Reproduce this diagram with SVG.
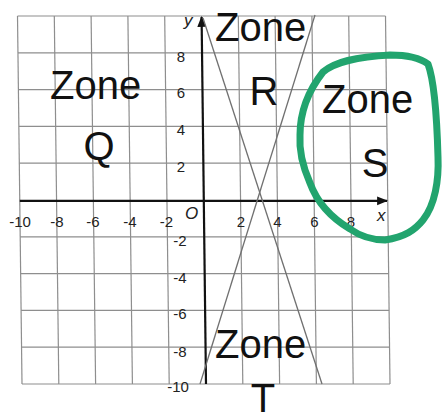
<svg xmlns="http://www.w3.org/2000/svg" width="445" height="420" viewBox="0 0 445 420">
<style>
.grid line{stroke:#8e8e8e;stroke-width:1.2}
.axis{stroke:#111;stroke-width:2.2;fill:none}
.bound{stroke:#707070;stroke-width:1.3;fill:none}
.num{font-family:"Liberation Sans",Arial,sans-serif;font-size:15px;fill:#222}
.num-mid{text-anchor:middle}
.var{font-family:"Liberation Sans",Arial,sans-serif;font-size:17px;font-style:italic;fill:#222}
.zone{font-family:"Liberation Sans",Arial,sans-serif;font-size:40px;fill:#111}
.mid{text-anchor:middle}
</style>
<defs>
<marker id="arr" viewBox="0 0 10 10" refX="9" refY="5" markerWidth="5" markerHeight="5" orient="auto" markerUnits="strokeWidth">
<path d="M0,1 L10,5 L0,9 Z" fill="#111"/>
</marker>
</defs>
<rect width="445" height="420" fill="#fff"/>
<g id="grid" class="grid">
<line x1="17.5" y1="16" x2="22" y2="384"/>
<line x1="54.3" y1="16" x2="58.8" y2="384"/>
<line x1="91.1" y1="16" x2="95.6" y2="384"/>
<line x1="127.9" y1="16" x2="132.4" y2="384"/>
<line x1="164.7" y1="16" x2="169.2" y2="384"/>
<line x1="238.3" y1="16" x2="242.8" y2="384"/>
<line x1="275.1" y1="16" x2="279.6" y2="384"/>
<line x1="311.9" y1="16" x2="316.4" y2="384"/>
<line x1="348.7" y1="16" x2="353.2" y2="384"/>
<line x1="385.5" y1="16" x2="390" y2="384"/>
<line x1="17.5" y1="16" x2="385.5" y2="16"/>
<line x1="17.95" y1="52.8" x2="385.95" y2="52.8"/>
<line x1="18.4" y1="89.6" x2="386.4" y2="89.6"/>
<line x1="18.85" y1="126.4" x2="386.85" y2="126.4"/>
<line x1="19.3" y1="163.2" x2="387.3" y2="163.2"/>
<line x1="20.2" y1="236.8" x2="388.2" y2="236.8"/>
<line x1="20.65" y1="273.6" x2="388.65" y2="273.6"/>
<line x1="21.1" y1="310.4" x2="389.1" y2="310.4"/>
<line x1="21.55" y1="347.2" x2="389.55" y2="347.2"/>
<line x1="22" y1="384" x2="390" y2="384"/>
</g>
<g id="connectors">
<line id="x-axis" class="axis" x1="19.8" y1="200.8" x2="387" y2="200.8" marker-end="url(#arr)"/>
<line id="y-axis" class="axis" x1="206" y1="384" x2="201.6" y2="17" marker-end="url(#arr)"/>
<line id="boundary-1" class="bound" x1="203" y1="18" x2="322" y2="384"/>
<line id="boundary-2" class="bound" x1="315" y1="15" x2="200" y2="384"/>
</g>
<g id="axis-labels">
<text class="var" x="184" y="26">y</text>
<text class="var" x="377" y="221">x</text>
<text class="var" x="185" y="219" font-size="18">O</text>
<text class="num num-mid" x="181" y="62">8</text>
<text class="num num-mid" x="181" y="98">6</text>
<text class="num num-mid" x="181" y="135">4</text>
<text class="num num-mid" x="181" y="172">2</text>
<text class="num num-mid" x="180" y="246">-2</text>
<text class="num num-mid" x="180" y="283">-4</text>
<text class="num num-mid" x="180" y="319">-6</text>
<text class="num num-mid" x="180" y="357">-8</text>
<text class="num num-mid" x="178" y="392">-10</text>
<text class="num num-mid" x="20" y="227">-10</text>
<text class="num num-mid" x="57" y="227">-8</text>
<text class="num num-mid" x="93" y="227">-6</text>
<text class="num num-mid" x="130" y="227">-4</text>
<text class="num num-mid" x="166.5" y="227">-2</text>
<text class="num num-mid" x="241" y="227">2</text>
<text class="num num-mid" x="277.5" y="227">4</text>
<text class="num num-mid" x="314.5" y="227">6</text>
<text class="num num-mid" x="351" y="227">8</text>
</g>
<g id="zone-q">
<text class="zone" x="50" y="99">Zone</text>
<text class="zone mid" x="99" y="160">Q</text>
</g>
<g id="zone-r">
<text class="zone" x="215" y="41">Zone</text>
<text class="zone mid" x="264" y="105">R</text>
</g>
<g id="zone-s">
<text class="zone" x="322" y="113">Zone</text>
<text class="zone mid" x="375" y="177">S</text>
</g>
<g id="zone-t">
<text class="zone" x="215" y="358">Zone</text>
<text class="zone mid" x="263" y="412" font-size="36">T</text>
</g>
<g id="highlight">
<path d="M390,55 C405,55 420,58 428,64 C434,80 437,120 438,157 C439,180 435,205 423,220 C415,230 405,237 385,240 C370,240 360,236 350,229 C335,220 318,205 310,183 C302,165 299,150 300,135 C300,118 305,95 323,72 C335,62 355,57 390,55 Z" fill="none" stroke="#22a46e" stroke-width="7" stroke-linejoin="round"/>
</g>
</svg>
